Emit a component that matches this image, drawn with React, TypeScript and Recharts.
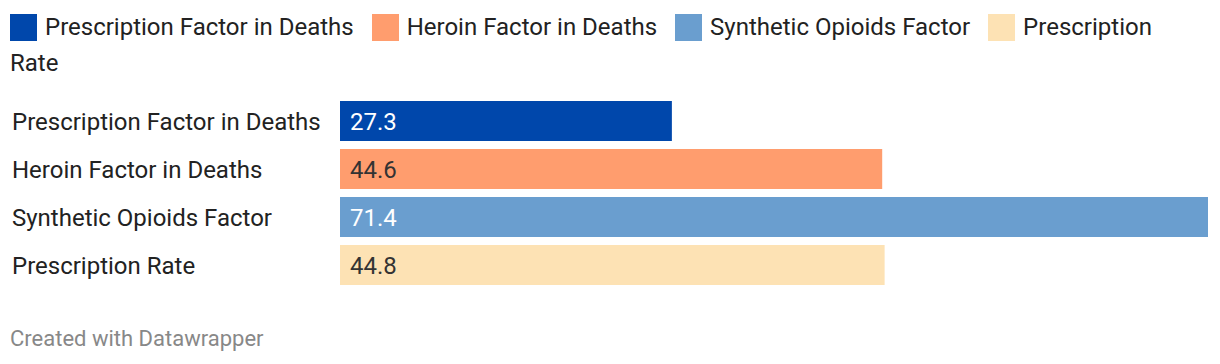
import { Fragment } from 'react';
import { BarChart, Bar, XAxis, YAxis, Cell, LabelList } from 'recharts';

const categories = [
  'Prescription Factor in Deaths',
  'Heroin Factor in Deaths',
  'Synthetic Opioids Factor',
  'Prescription Rate',
];
const values = [27.3, 44.6, 71.4, 44.8];
const colors = ['#0047AB', '#FF9D6E', '#6A9ECF', '#FDE2B4'];
const labelColors = ['#ffffff', '#333333', '#ffffff', '#333333'];

const FONT = 'Roboto, sans-serif';

const data = categories.map((name, i) => ({ name, value: values[i] }));

function CategoryTick(props: any) {
  const { y, payload } = props;
  return (
    <text x={12} y={y} dy={9} textAnchor="start" fill="#222" fontSize={24} fontFamily={FONT}>
      {payload.value}
    </text>
  );
}

function ValueLabel(props: any) {
  const { x, y, height, value, index } = props;
  return (
    <text
      x={x + 10}
      y={y + height / 2}
      dy={9}
      fill={labelColors[index]}
      fontSize={24}
      fontFamily={FONT}
    >
      {Number(value).toFixed(1)}
    </text>
  );
}

// flat legend: swatch + words as siblings, so the wrap of the last item
// doesn't produce one element spanning two lines
function Legend() {
  return (
    <div
      style={{
        position: 'absolute',
        left: 10,
        top: 9,
        width: 1180,
        fontSize: 24,
        lineHeight: '36px',
      }}
    >
      {categories.map((c, i) => (
        <Fragment key={c}>
          <span
            style={{
              display: 'inline-block',
              width: 27,
              height: 27,
              background: colors[i],
              verticalAlign: '-6px',
              marginRight: 8,
            }}
          />
          {c.split(' ').map((w, j, arr) => (
            <Fragment key={j}>
              <span style={{ marginRight: j === arr.length - 1 ? 18 : 0 }}>{w}</span>
              {j < arr.length - 1 ? ' ' : ''}
            </Fragment>
          ))}
        </Fragment>
      ))}
    </div>
  );
}

export default function App() {
  return (
    <div
      style={{
        position: 'absolute',
        left: 0,
        top: 0,
        width: 1220,
        height: 364,
        background: '#fff',
        fontFamily: FONT,
        color: '#222',
      }}
    >
      <Legend />
      <div style={{ position: 'absolute', left: 0, top: 0 }}>
        <BarChart
          width={1220}
          height={364}
          data={data}
          layout="vertical"
          margin={{ top: 97, right: 12, bottom: 75, left: 0 }}
          barCategoryGap={4}
        >
          <XAxis type="number" hide domain={[0, 'dataMax']} />
          <YAxis
            type="category"
            dataKey="name"
            width={340}
            axisLine={false}
            tickLine={false}
            tick={<CategoryTick />}
          />
          <Bar dataKey="value" isAnimationActive={false}>
            {data.map((d, i) => (
              <Cell key={d.name} fill={colors[i]} />
            ))}
            <LabelList dataKey="value" content={<ValueLabel />} />
          </Bar>
        </BarChart>
      </div>
      <div
        style={{
          position: 'absolute',
          left: 10,
          top: 326,
          fontSize: 22,
          color: '#888',
        }}
      >
        Created with Datawrapper
      </div>
    </div>
  );
}
